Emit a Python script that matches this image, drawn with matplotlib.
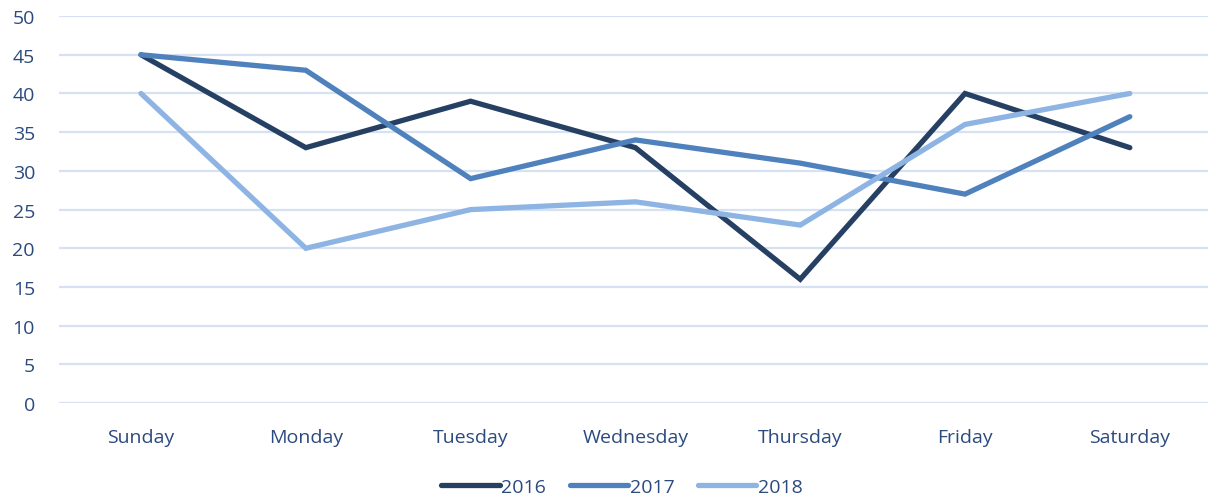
import matplotlib.pyplot as plt
import numpy as np

days = ['Sunday', 'Monday', 'Tuesday', 'Wednesday', 'Thursday', 'Friday', 'Saturday']
y2016 = [45, 33, 39, 33, 16, 40, 33]
y2017 = [45, 43, 29, 34, 31, 27, 37]
y2018 = [40, 20, 25, 26, 23, 36, 40]

text_color = '#2B4A7E'
plt.rcParams['font.family'] = ['Open Sans', 'DejaVu Sans']

fig = plt.figure(figsize=(12.08, 5.02), dpi=100)
ax = fig.add_axes([0.0485, 0.195, 0.955, 0.771])

x = np.arange(len(days))
for vals, col, lab in [(y2016, '#264064', '2016'),
                       (y2017, '#4F81BD', '2017'),
                       (y2018, '#8EB4E3', '2018')]:
    ax.plot(x, vals, color=col, lw=3.8, label=lab,
            solid_capstyle='round', solid_joinstyle='miter')

ax.set_xlim(-0.5, 6.5)
ax.set_ylim(0, 50)
ax.set_yticks(range(0, 51, 5))
ax.set_xticks(x)
ax.set_xticklabels(days)
ax.grid(axis='y', color='#D6E2F3', lw=1.6)
ax.set_axisbelow(True)
for s in ax.spines.values():
    s.set_visible(False)
ax.tick_params(length=0, labelsize=14, colors=text_color)
ax.tick_params(axis='x', pad=18)
ax.tick_params(axis='y', pad=17)

leg = fig.legend(loc='lower center', bbox_to_anchor=(0.515, -0.025), ncol=3,
                 frameon=False, fontsize=14, handlelength=3.0,
                 handletextpad=0.1, columnspacing=1.2)
for t in leg.get_texts():
    t.set_color(text_color)

fig.savefig('out.png', dpi=100)
